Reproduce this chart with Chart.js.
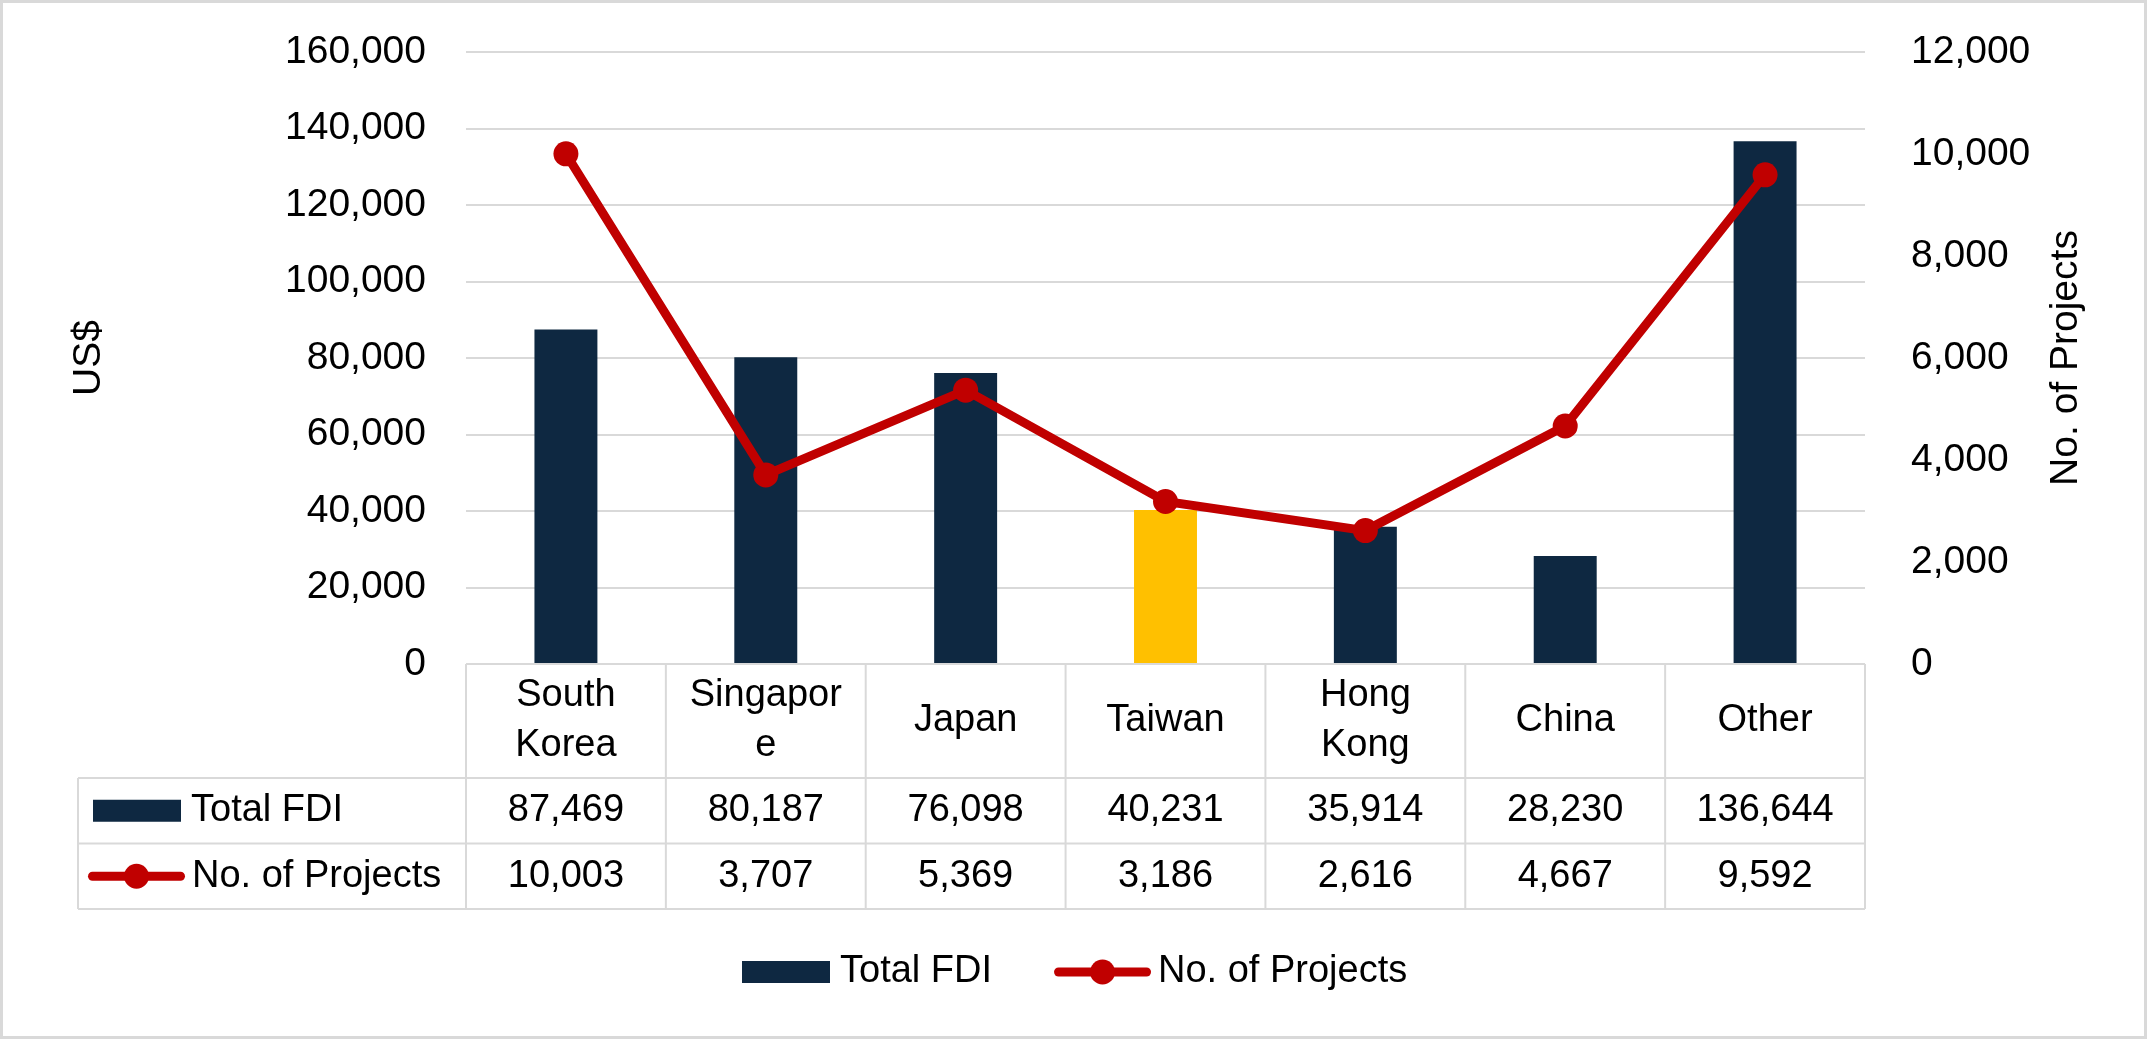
<!DOCTYPE html>
<html>
<head>
<meta charset="utf-8">
<title>FDI by source economy</title>
<script src="https://cdn.jsdelivr.net/npm/chart.js@4.4.1/dist/chart.umd.min.js"></script>
<style>
  html, body { margin: 0; padding: 0; background: #ffffff; }
  #wrap { width: 2147px; height: 1039px; }
</style>
</head>
<body>
<div id="wrap"><canvas id="fdiChart" width="2147" height="1039"></canvas></div>
<script>
const categories = [["South", "Korea"], ["Singapor", "e"], ["Japan"], ["Taiwan"], ["Hong", "Kong"], ["China"], ["Other"]];
const totalFdi = [87469, 80187, 76098, 40231, 35914, 28230, 136644];
const projects = [10003, 3707, 5369, 3186, 2616, 4667, 9592];
const fdiTicks = [0, 20000, 40000, 60000, 80000, 100000, 120000, 140000, 160000];
const projectTicks = [0, 2000, 4000, 6000, 8000, 10000, 12000];
const highlight = "Taiwan";

const navy = "#0E2841";
const gold = "#FFC000";
const red = "#C00000";
const lineGrey = "#D9D9D9";
const fontFamily = "'Liberation Sans', Arial, sans-serif";

Chart.defaults.font.family = fontFamily;
Chart.defaults.font.size = 39;
Chart.defaults.color = "#000000";

const fmt = v => v.toLocaleString("en-US");
const barColors = categories.map(c => c.join("") === highlight ? gold : navy);

// legend key as Excel draws it; returns x where the label starts
function drawKey(ctx, ds, x, y) {
    if (ds.type === "line") {
        const w = ds.borderWidth;
        ctx.strokeStyle = ds.borderColor;
        ctx.lineWidth = w;
        ctx.lineCap = "round";
        ctx.beginPath();
        ctx.moveTo(x + w / 2, y);
        ctx.lineTo(x + 97 - w / 2, y);
        ctx.stroke();
        ctx.fillStyle = ds.pointBackgroundColor;
        ctx.beginPath();
        ctx.arc(x + 48.5, y, ds.pointRadius, 0, Math.PI * 2);
        ctx.fill();
        return x + 104;
    }
    ctx.fillStyle = navy;
    ctx.fillRect(x, y - 11, 88, 22);
    return x + 98;
}

// Excel-style data table under the plot, legend and right axis title
const tablePlugin = {
    id: "dataTable",
    afterDraw(chart) {
        const { ctx, chartArea: area, scales: { x } } = chart;
        const sets = [chart.data.datasets[1], chart.data.datasets[0]];
        const half = (x.getPixelForValue(1) - x.getPixelForValue(0)) / 2;
        const top = area.bottom;
        const headBottom = top + 114;
        const rowH = 65.5;
        const labelLeft = 78;
        const bottom = headBottom + rowH * sets.length;

        ctx.save();
        ctx.strokeStyle = lineGrey;
        ctx.lineWidth = 2;
        ctx.lineCap = "butt";
        ctx.beginPath();
        ctx.moveTo(area.left, top); ctx.lineTo(area.right, top);
        for (let r = 0; r <= sets.length; r++) {
            ctx.moveTo(labelLeft, headBottom + r * rowH);
            ctx.lineTo(area.right, headBottom + r * rowH);
        }
        ctx.moveTo(labelLeft, headBottom); ctx.lineTo(labelLeft, bottom);
        for (let i = 0; i <= categories.length; i++) {
            const bx = i < categories.length ? x.getPixelForValue(i) - half : x.getPixelForValue(i - 1) + half;
            ctx.moveTo(bx, top); ctx.lineTo(bx, bottom);
        }
        ctx.stroke();

        // outer chart border
        ctx.lineWidth = 3;
        ctx.strokeRect(1.5, 1.5, chart.width - 3, chart.height - 3);

        ctx.fillStyle = "#000000";
        ctx.font = "38px " + fontFamily;
        ctx.textBaseline = "middle";
        ctx.textAlign = "center";
        categories.forEach((lines, i) => {
            const cx = x.getPixelForValue(i);
            const cy = (top + headBottom) / 2;
            lines.forEach((t, k) => {
                ctx.fillText(t, cx, cy + (k - (lines.length - 1) / 2) * 50);
            });
        });

        sets.forEach((ds, r) => {
            const cy = headBottom + r * rowH + rowH / 2;
            ctx.fillStyle = "#000000";
            ctx.textAlign = "center";
            ds.data.forEach((v, i) => {
                ctx.fillText(fmt(v), x.getPixelForValue(i), cy);
            });
            const tx = drawKey(ctx, ds, ds.type === "line" ? labelLeft + 10 : labelLeft + 15, cy);
            ctx.fillStyle = "#000000";
            ctx.textAlign = "left";
            ctx.fillText(ds.label, tx, cy);
        });

        // legend under the table
        const ly = 972;
        let lx = 742;
        sets.forEach(ds => {
            const tx = drawKey(ctx, ds, lx, ly);
            ctx.fillStyle = "#000000";
            ctx.textAlign = "left";
            ctx.fillText(ds.label, tx, ly);
            lx = tx + ctx.measureText(ds.label).width + 62;
        });

        // right axis title, reading bottom to top
        ctx.font = "39px " + fontFamily;
        ctx.textAlign = "center";
        ctx.translate(2066, (area.top + area.bottom) / 2);
        ctx.rotate(-Math.PI / 2);
        ctx.fillText(chart.data.datasets[0].label, 0, 0);
        ctx.restore();
    }
};

new Chart(document.getElementById("fdiChart"), {
    type: "bar",
    data: {
        labels: categories,
        datasets: [
            {
                type: "line",
                label: "No. of Projects",
                data: projects,
                yAxisID: "y1",
                borderColor: red,
                borderWidth: 9,
                pointRadius: 12.5,
                pointBorderWidth: 0,
                pointBackgroundColor: red,
                pointHoverRadius: 12.5,
                tension: 0,
                order: 0
            },
            {
                type: "bar",
                label: "Total FDI",
                data: totalFdi,
                yAxisID: "y",
                backgroundColor: barColors,
                categoryPercentage: 1,
                barPercentage: 0.315,
                order: 1
            }
        ]
    },
    options: {
        responsive: false,
        animation: false,
        layout: { padding: { top: 52, bottom: 375, left: 0, right: 0 } },
        plugins: {
            legend: { display: false },
            tooltip: { enabled: false }
        },
        scales: {
            x: { display: false },
            y: {
                position: "left",
                min: fdiTicks[0],
                max: fdiTicks[fdiTicks.length - 1],
                afterBuildTicks: s => { s.ticks = fdiTicks.map(v => ({ value: v })); },
                afterFit: s => { s.width = 466; s.paddingTop = 0; s.paddingBottom = 0; },
                grid: { color: lineGrey, lineWidth: 2, drawTicks: false },
                border: { display: false },
                ticks: { padding: 40, callback: v => fmt(v) },
                title: { display: true, text: "US$", padding: { top: 66, bottom: 0 } }
            },
            y1: {
                position: "right",
                min: projectTicks[0],
                max: projectTicks[projectTicks.length - 1],
                afterBuildTicks: s => { s.ticks = projectTicks.map(v => ({ value: v })); },
                afterFit: s => { s.width = 282; s.paddingTop = 0; s.paddingBottom = 0; },
                grid: { display: false },
                border: { display: false },
                ticks: { padding: 38, callback: v => fmt(v) }
            }
        }
    },
    plugins: [tablePlugin]
});
</script>
</body>
</html>
